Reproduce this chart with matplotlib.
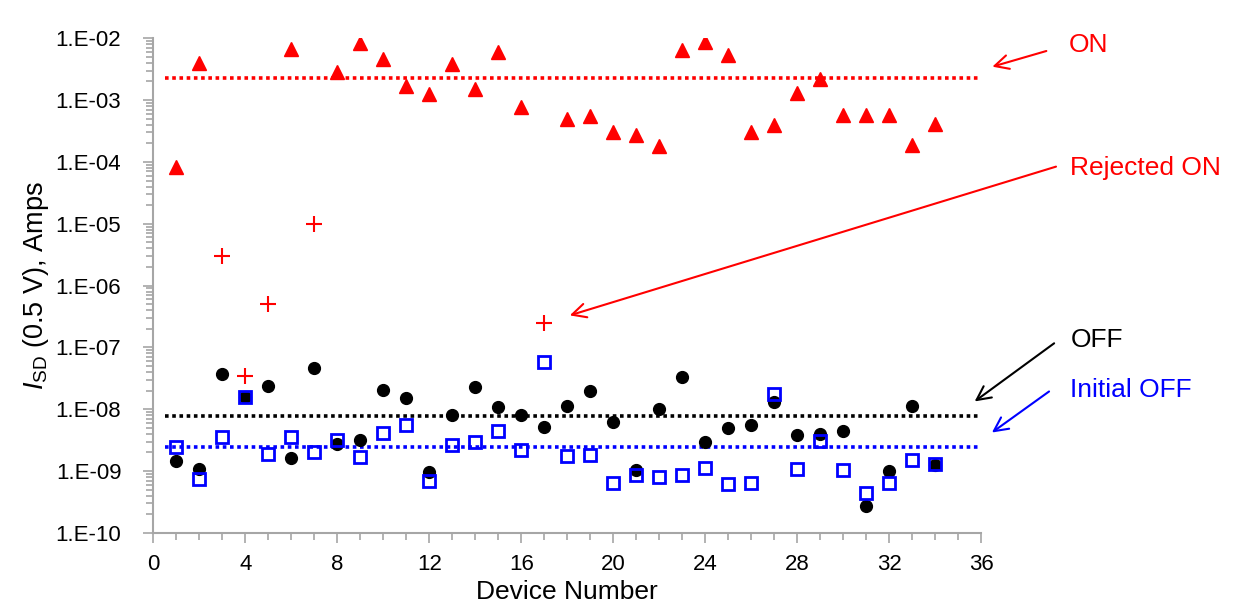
import matplotlib
matplotlib.use("Agg")
import matplotlib.pyplot as plt
import matplotlib.ticker as mticker
import numpy as np

plt.rcParams['font.family'] = ['Liberation Sans', 'DejaVu Sans']
plt.rcParams['mathtext.fontset'] = 'custom'
plt.rcParams['mathtext.rm'] = 'Liberation Sans'
plt.rcParams['mathtext.it'] = 'Liberation Sans:italic'

# ON current (triangles)
on_dev = [1, 2, 6, 8, 9, 10, 11, 12, 13, 14, 15, 16, 18, 19, 20, 21, 22, 23, 24, 25,
          26, 27, 28, 29, 30, 31, 32, 33, 34]
on_val = [8.3e-5, 4.0e-3, 6.8e-3, 2.8e-3, 8.4e-3, 4.7e-3, 1.68e-3, 1.25e-3, 3.9e-3, 1.52e-3,
          5.9e-3, 7.8e-4, 4.9e-4, 5.6e-4, 3.1e-4, 2.7e-4, 1.82e-4, 6.4e-3, 8.8e-3, 5.4e-3,
          3.1e-4, 4.0e-4, 1.29e-3, 2.2e-3, 5.8e-4, 5.8e-4, 5.8e-4, 1.89e-4, 4.1e-4]

# rejected ON (crosses)
rej_dev = [3, 4, 5, 7, 17]
rej_val = [3.0e-6, 3.5e-8, 5.0e-7, 9.8e-6, 2.5e-7]

devices = list(range(1, 35))
# OFF current (black circles)
off_val = [1.48e-9, 1.08e-9, 3.7e-8, 1.57e-8, 2.4e-8, 1.6e-9, 4.7e-8, 2.76e-9, 3.2e-9, 2.08e-8,
           1.51e-8, 9.5e-10, 8.1e-9, 2.33e-8, 1.07e-8, 8.2e-9, 5.2e-9, 1.14e-8, 1.96e-8, 6.2e-9,
           1.05e-9, 1.0e-8, 3.3e-8, 2.97e-9, 4.9e-9, 5.6e-9, 1.3e-8, 3.9e-9, 3.95e-9, 4.5e-9,
           2.7e-10, 1.01e-9, 1.14e-8, 1.25e-9]
# initial OFF current (blue squares)
init_val = [2.5e-9, 7.5e-10, 3.6e-9, 1.55e-8, 1.88e-9, 3.6e-9, 2.07e-9, 3.2e-9, 1.7e-9, 4.2e-9,
            5.5e-9, 6.8e-10, 2.6e-9, 2.94e-9, 4.4e-9, 2.18e-9, 5.75e-8, 1.73e-9, 1.79e-9, 6.5e-10,
            8.5e-10, 8.1e-10, 8.7e-10, 1.12e-9, 6.2e-10, 6.4e-10, 1.75e-8, 1.08e-9, 3.1e-9, 1.04e-9,
            4.4e-10, 6.5e-10, 1.52e-9, 1.30e-9]

# averages shown as dotted lines
avg_on = 2.3e-3
avg_off = 7.9e-9
avg_init = 2.5e-9

fig = plt.figure(figsize=(12.36, 6.07), dpi=100)
ax = fig.add_axes([0.124, 0.122, 0.670, 0.815])

dots = (0, (1, 1))
ax.plot([0.5, 36], [avg_on, avg_on], color='red', lw=2.6, ls=dots, zorder=1)
ax.plot([0.5, 36], [avg_off, avg_off], color='black', lw=2.6, ls=dots, zorder=1)
ax.plot([0.5, 36], [avg_init, avg_init], color='blue', lw=2.6, ls=dots, zorder=1)

ax.plot(on_dev, on_val, '^', color='red', ms=9.5, mec='red', ls='none', zorder=3)
ax.plot(rej_dev, rej_val, '+', color='red', ms=12, mew=1.5, ls='none', zorder=3)
ax.plot(devices, init_val, 's', mfc='none', mec='blue', ms=8, mew=2, ls='none', zorder=3)
ax.plot(devices, off_val, 'o', color='black', ms=8.5, ls='none', zorder=2)

ax.set_yscale('log')
ax.set_ylim(1e-10, 1e-2)
ax.set_xlim(0, 36)
ax.xaxis.set_major_locator(mticker.MultipleLocator(4))
ax.xaxis.set_minor_locator(mticker.MultipleLocator(1))
ax.yaxis.set_major_locator(mticker.LogLocator(base=10, numticks=20))
ax.yaxis.set_minor_locator(mticker.LogLocator(base=10, subs=np.arange(2, 10), numticks=20))
ax.yaxis.set_minor_formatter(mticker.NullFormatter())
ax.yaxis.set_major_formatter(mticker.FuncFormatter(lambda v, p: "1.E%+03d" % int(round(np.log10(v)))))

for s in ['top', 'right']:
    ax.spines[s].set_visible(False)
for s in ['left', 'bottom']:
    ax.spines[s].set_color('#a6a6a6')
    ax.spines[s].set_linewidth(1.5)
ax.tick_params(axis='both', which='both', color='#a6a6a6', width=1.2, direction='out')
ax.tick_params(axis='both', which='major', length=7, labelsize=16)
ax.tick_params(axis='x', which='major', pad=8)
ax.tick_params(axis='y', which='major', pad=16)
ax.tick_params(axis='both', which='minor', length=5)

ax.set_xlabel('Device Number', fontsize=19, labelpad=4)
ax.set_ylabel(r'$\mathit{I}_{\rm SD}$ (0.5 V), Amps', fontsize=19.5, labelpad=3)

arrow = dict(arrowstyle='->', lw=1.5, mutation_scale=25)
ax.annotate('', xy=(36.36, 3.37e-3), xytext=(38.94, 6.4e-3),
            arrowprops=dict(arrow, color='red'), annotation_clip=False)
ax.text(39.8, 7.7e-3, 'ON', color='red', fontsize=19, ha='left', va='center')

ax.annotate('', xy=(17.99, 3.2e-7), xytext=(39.36, 8.65e-5),
            arrowprops=dict(arrow, color='red'), annotation_clip=False)
ax.text(39.85, 7.9e-5, 'Rejected ON', color='red', fontsize=19, ha='left', va='center')

ax.annotate('', xy=(35.61, 1.26e-8), xytext=(39.26, 1.24e-7),
            arrowprops=dict(arrow, color='black'), annotation_clip=False)
ax.text(39.9, 1.32e-7, 'OFF', color='black', fontsize=19, ha='left', va='center')

ax.annotate('', xy=(36.36, 3.96e-9), xytext=(39.04, 2.06e-8),
            arrowprops=dict(arrow, color='blue'), annotation_clip=False)
ax.text(39.85, 2.06e-8, 'Initial OFF', color='blue', fontsize=19, ha='left', va='center')

fig.savefig('out.png', dpi=100)
